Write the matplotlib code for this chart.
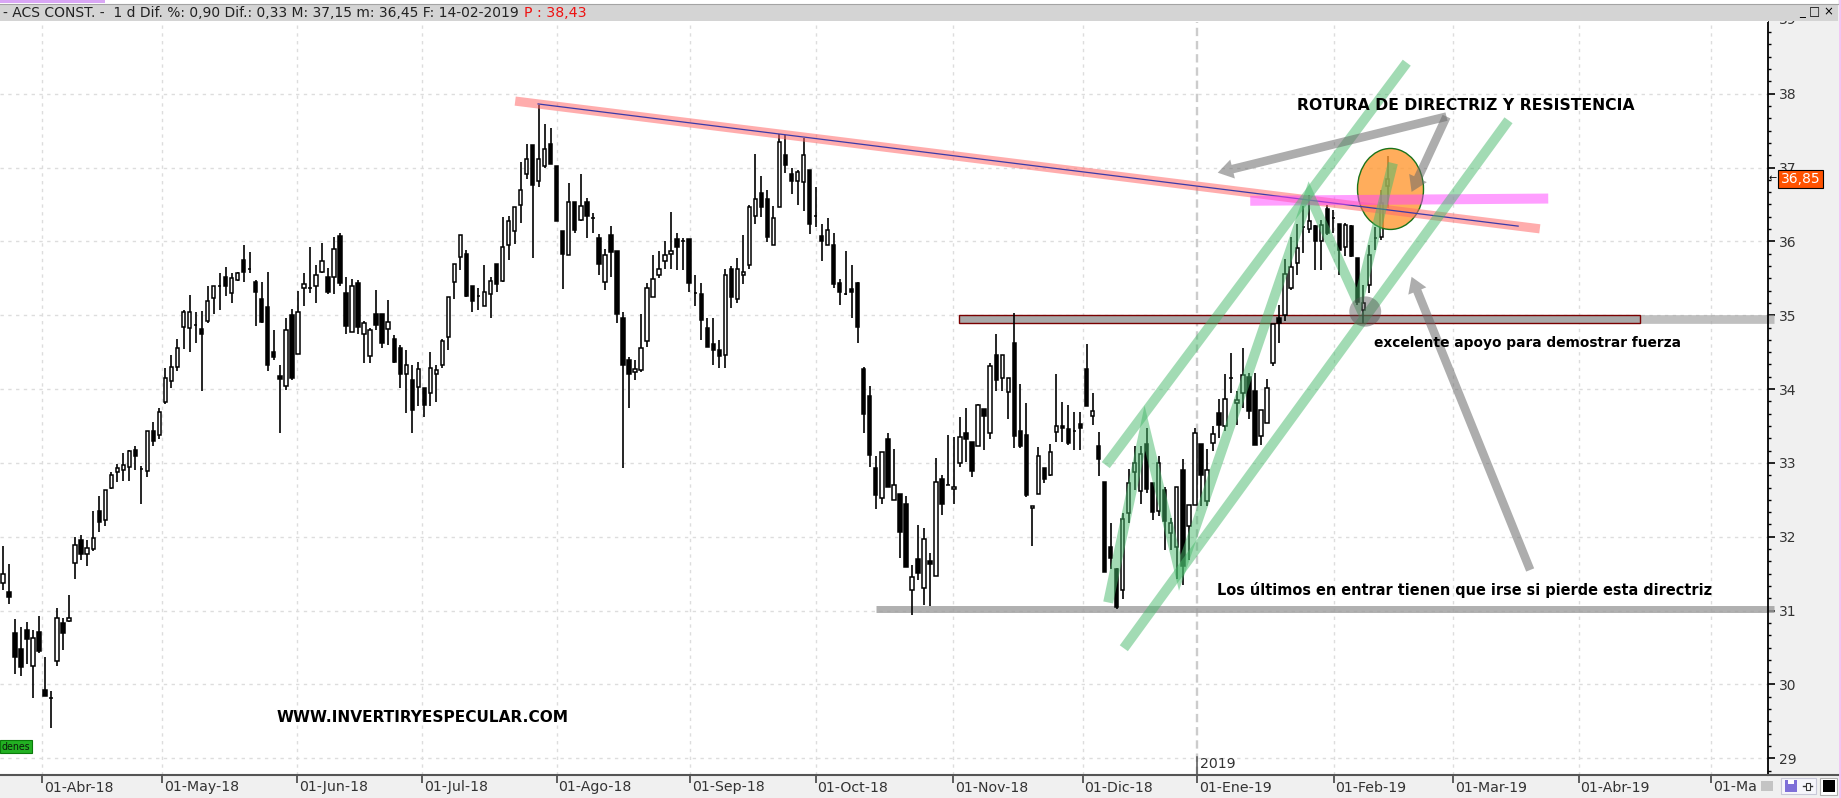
import matplotlib
matplotlib.use("Agg")
import matplotlib.pyplot as plt
import numpy as np
from matplotlib.patches import Rectangle, Ellipse
from matplotlib.lines import Line2D
from matplotlib.ticker import MultipleLocator
import matplotlib.transforms as mtransforms

plt.rcParams['lines.scale_dashes'] = False
plt.rcParams['font.family'] = ['DejaVu Sans']

# ---------------- data (daily candles, index 0 = first candle) ----------------
opens = [31.38, 31.25, 30.69, 30.48, 30.74, 30.25, 30.71, 29.93, 29.82, 30.32,
         30.83, 30.86, 31.65, 31.95, 31.77, 31.83, 32.35, 32.22, 32.66, 32.87,
         32.90, 32.95, 33.18, 32.92, 32.89, 33.43, 33.38, 33.82, 34.11, 34.30,
         34.84, 34.83, 34.87, 34.81, 34.92, 35.23, 35.39, 35.52, 35.30, 35.48,
         35.75, 35.63, 35.45, 35.22, 35.11, 34.50, 34.18, 34.04, 35.00, 34.47,
         35.37, 35.37, 35.39, 35.58, 35.52, 35.52, 36.07, 35.30, 34.77, 35.43,
         34.74, 34.45, 35.02, 35.01, 34.81, 34.68, 34.55, 34.20, 34.12, 34.03,
         34.01, 33.95, 34.20, 34.32, 34.70, 35.45, 35.79, 35.83, 35.39, 35.26,
         35.13, 35.29, 35.69, 35.46, 35.95, 36.14, 36.49, 36.91, 37.30, 36.82,
         37.02, 37.32, 37.02, 36.14, 35.81, 36.53, 36.29, 36.53, 36.31, 36.04,
         35.45, 36.08, 35.87, 34.96, 34.39, 34.23, 34.26, 34.65, 35.25, 35.54,
         35.74, 35.83, 36.03, 36.01, 36.03, 35.30, 35.29, 34.83, 34.61, 34.53,
         34.46, 35.63, 35.22, 35.55, 35.68, 36.34, 36.66, 36.57, 35.95, 36.46,
         37.17, 36.91, 36.82, 36.80, 36.97, 36.34, 36.07, 35.95, 35.95, 35.43,
         35.29, 35.35, 35.43, 34.27, 33.91, 32.93, 32.53, 33.32, 32.50, 32.58,
         32.44, 31.28, 31.70, 31.31, 31.67, 31.47, 32.78, 32.70, 32.65, 33.00,
         33.41, 33.28, 33.23, 33.73, 33.41, 34.46, 34.15, 33.96, 34.63, 33.43,
         33.38, 32.39, 32.58, 32.93, 32.84, 33.42, 33.50, 33.46, 33.43, 33.53,
         34.27, 33.63, 33.23, 32.74, 31.86, 31.56, 31.28, 32.32, 32.88, 32.62,
         33.25, 32.73, 32.35, 32.63, 32.05, 31.86, 32.90, 32.15, 32.43, 33.25,
         32.49, 33.27, 33.68, 33.50, 34.15, 33.81, 33.95, 34.17, 33.97, 33.36,
         33.54, 34.35, 34.96, 35.00, 35.37, 35.71, 36.20, 36.17, 36.21, 36.00,
         36.44, 36.31, 36.23, 35.93, 36.21, 35.77, 35.07, 35.41, 36.04, 36.06,
         36.75]
highs = [31.87, 31.63, 30.89, 30.78, 30.84, 30.74, 30.92, 30.37, 29.91, 31.04,
         30.90, 31.21, 32.00, 32.02, 31.96, 32.35, 32.55, 32.63, 32.87, 32.98,
         33.13, 33.17, 33.23, 32.96, 33.43, 33.55, 33.74, 34.29, 34.46, 34.68,
         35.07, 35.28, 35.04, 35.06, 35.40, 35.40, 35.57, 35.65, 35.57, 35.58,
         35.95, 35.85, 35.48, 35.45, 35.58, 34.80, 34.33, 34.96, 35.08, 35.33,
         35.57, 35.92, 35.68, 35.98, 35.64, 36.06, 36.11, 35.52, 35.49, 35.48,
         34.92, 34.83, 35.34, 35.02, 35.20, 34.73, 34.59, 34.53, 34.33, 34.37,
         34.01, 34.50, 34.32, 34.68, 35.25, 35.70, 36.09, 35.89, 35.39, 35.37,
         35.68, 35.52, 35.69, 36.33, 36.34, 36.46, 37.08, 37.32, 37.30, 37.85,
         37.59, 37.54, 37.02, 36.14, 36.79, 36.53, 36.91, 36.59, 36.39, 36.10,
         35.90, 36.21, 35.87, 35.05, 34.44, 34.39, 35.01, 35.43, 35.81, 35.87,
         36.01, 36.40, 36.11, 36.05, 36.03, 35.55, 35.43, 34.96, 34.96, 34.66,
         35.63, 35.66, 35.77, 36.08, 36.49, 37.18, 36.88, 36.69, 36.48, 37.46,
         37.44, 37.00, 36.97, 37.40, 36.97, 36.74, 36.23, 36.31, 36.11, 35.49,
         35.87, 35.68, 35.45, 34.30, 34.04, 33.09, 33.15, 33.40, 33.19, 32.58,
         32.55, 31.62, 32.16, 32.12, 31.78, 33.07, 32.84, 33.38, 33.35, 33.62,
         33.75, 33.28, 33.80, 33.73, 34.35, 34.75, 34.46, 34.15, 35.03, 34.07,
         33.81, 32.42, 33.22, 32.93, 33.26, 34.21, 33.83, 33.78, 33.69, 33.69,
         34.61, 33.95, 33.42, 32.74, 32.19, 31.58, 32.32, 32.92, 33.23, 33.23,
         33.47, 32.73, 33.10, 32.68, 32.26, 32.68, 33.05, 32.43, 33.47, 33.25,
         33.19, 33.50, 33.86, 34.20, 34.49, 33.97, 34.55, 34.22, 34.22, 33.71,
         34.14, 34.88, 35.14, 35.76, 36.06, 36.23, 36.48, 36.63, 36.22, 36.29,
         36.49, 36.43, 36.23, 36.25, 36.22, 35.77, 35.41, 35.95, 36.20, 36.70,
         37.15]
lows = [31.28, 31.09, 30.14, 30.12, 30.27, 29.81, 30.42, 29.84, 29.41, 30.25,
        30.46, 30.84, 31.43, 31.69, 31.60, 31.81, 32.06, 32.14, 32.64, 32.74,
        32.76, 32.76, 32.90, 32.44, 32.81, 33.23, 33.32, 33.80, 34.01, 34.24,
        34.54, 34.50, 34.62, 33.97, 34.89, 35.01, 35.07, 35.26, 35.16, 35.46,
        35.45, 35.57, 34.85, 34.89, 34.24, 34.39, 33.40, 33.99, 34.12, 34.47,
        35.12, 35.30, 35.16, 35.57, 35.29, 35.29, 35.40, 34.75, 34.77, 34.74,
        34.35, 34.35, 34.80, 34.56, 34.59, 34.35, 34.01, 33.68, 33.40, 33.77,
        33.62, 33.77, 33.83, 34.29, 34.53, 35.22, 35.61, 35.24, 35.04, 35.07,
        35.12, 34.96, 35.31, 35.45, 35.75, 35.96, 36.25, 36.85, 35.78, 36.73,
        36.99, 37.05, 36.28, 35.36, 35.81, 36.12, 36.28, 36.05, 36.11, 35.55,
        35.34, 35.52, 34.89, 32.93, 33.74, 34.12, 34.23, 34.57, 35.25, 35.51,
        35.63, 35.63, 35.61, 35.61, 35.31, 35.13, 34.66, 34.57, 34.33, 34.29,
        34.29, 35.10, 35.16, 35.42, 35.63, 36.23, 36.33, 35.99, 35.95, 36.46,
        36.93, 36.64, 36.49, 36.41, 36.10, 36.19, 35.74, 35.95, 35.37, 35.14,
        35.27, 34.96, 34.62, 33.40, 32.95, 32.37, 32.44, 32.68, 32.50, 31.71,
        31.59, 30.94, 31.41, 31.07, 31.06, 31.47, 32.30, 32.70, 32.44, 32.95,
        33.01, 32.81, 33.23, 33.18, 33.33, 33.97, 33.97, 33.59, 33.20, 33.20,
        32.54, 31.87, 32.58, 32.73, 32.82, 33.28, 33.28, 33.24, 33.17, 33.17,
        33.77, 33.51, 32.82, 31.52, 31.56, 31.02, 31.16, 32.19, 32.63, 32.44,
        32.59, 32.23, 32.28, 31.82, 31.82, 31.43, 31.35, 31.69, 32.43, 32.41,
        32.41, 33.16, 33.34, 33.43, 33.95, 33.51, 33.74, 33.59, 33.24, 33.24,
        33.54, 34.31, 34.63, 34.92, 35.34, 35.54, 35.84, 36.12, 35.61, 35.61,
        36.09, 36.12, 35.55, 35.80, 35.79, 35.14, 34.89, 35.30, 35.88, 36.02,
        36.45]
closes = [31.50, 31.18, 30.37, 30.23, 30.62, 30.63, 30.45, 29.84, 29.82, 30.90,
          30.69, 30.90, 31.89, 31.76, 31.85, 31.98, 32.20, 32.63, 32.83, 32.93,
          32.97, 33.16, 33.09, 32.92, 33.43, 33.30, 33.69, 34.15, 34.30, 34.55,
          35.05, 35.05, 34.87, 34.74, 35.19, 35.39, 35.39, 35.39, 35.51, 35.57,
          35.58, 35.63, 35.31, 34.91, 34.32, 34.43, 34.13, 34.80, 34.15, 35.04,
          35.42, 35.37, 35.54, 35.73, 35.31, 35.90, 35.43, 34.86, 35.39, 34.84,
          34.90, 34.80, 34.87, 34.62, 34.91, 34.36, 34.21, 34.32, 33.71, 34.27,
          33.79, 34.29, 34.26, 34.65, 35.25, 35.70, 36.09, 35.26, 35.19, 35.26,
          35.31, 35.47, 35.42, 35.93, 36.27, 36.46, 36.70, 37.12, 36.76, 37.11,
          37.25, 37.05, 36.28, 35.83, 36.53, 36.16, 36.48, 36.34, 36.31, 35.69,
          35.81, 35.86, 35.01, 34.32, 34.20, 34.27, 34.56, 35.37, 35.49, 35.63,
          35.82, 35.87, 35.92, 36.01, 35.43, 35.30, 34.93, 34.57, 34.53, 34.45,
          35.54, 35.25, 35.63, 35.59, 36.47, 36.58, 36.46, 36.06, 36.32, 37.35,
          37.03, 36.82, 36.94, 37.17, 36.23, 36.34, 36.00, 36.15, 35.42, 35.31,
          35.29, 35.31, 34.84, 33.66, 33.11, 32.57, 33.15, 32.68, 32.70, 32.06,
          31.59, 31.46, 31.51, 31.97, 31.63, 32.74, 32.44, 32.70, 32.68, 33.35,
          33.32, 32.89, 33.78, 33.63, 34.31, 34.12, 34.46, 34.15, 33.36, 33.23,
          32.56, 32.42, 33.10, 32.78, 33.15, 33.50, 33.47, 33.27, 33.43, 33.47,
          33.77, 33.70, 33.05, 31.52, 31.71, 31.05, 32.24, 32.73, 33.00, 33.12,
          32.64, 32.33, 33.00, 32.21, 32.19, 32.68, 31.61, 32.43, 33.41, 32.83,
          32.91, 33.39, 33.51, 33.86, 34.15, 33.85, 34.19, 33.70, 33.24, 33.71,
          34.02, 34.88, 34.90, 35.56, 35.65, 35.91, 36.20, 36.27, 36.00, 36.22,
          36.12, 36.31, 35.88, 36.22, 35.80, 35.18, 35.17, 35.82, 36.04, 36.52,
          36.85]

month_labels = ['01-Abr-18', '01-May-18', '01-Jun-18', '01-Jul-18', '01-Ago-18',
                '01-Sep-18', '01-Oct-18', '01-Nov-18', '01-Dic-18', '01-Ene-19',
                '01-Feb-19', '01-Mar-19', '01-Abr-19', '01-May-19']
month_pos = [6.55, 26.5, 48.9, 69.7, 92.0, 114.2, 135.0, 157.9, 179.4, 198.4,
             221.1, 240.9, 261.8, 283.8]
year_label = '2019'
year_pos = 198.4
price_ticks = [29, 30, 31, 32, 33, 34, 35, 36, 37, 38]
hidden_top_tick = 39

title_main = "- ACS CONST. -  1 d Dif. %: 0,90 Dif.: 0,33 M: 37,15 m: 36,45 F: 14-02-2019"
title_price = "P : 38,43"

# hand-drawn annotations, in (candle index, price)
resist_band = [(85.1, 37.90), (255.3, 36.17)]
resist_line_x = [88.9, 251.7]
support_box = (158.9, 272.0, 34.90, 35.00)
support_ext = (272.0, 294.2, 34.95)
floor_line = (145.0, 294.2, 31.02)
channel_upper = [(183.2, 32.97), (233.2, 38.42)]
channel_lower = [(186.2, 30.49), (250.1, 37.64)]
zigzag = [(183.6, 31.11), (189.7, 33.47), (195.5, 31.51), (217.0, 36.63),
          (225.1, 35.17), (230.9, 37.06)]
magenta_band = [(207.2, 36.55), (256.7, 36.58)]
breakout_ellipse = (230.5, 36.71, 10.96, 1.097)
support_circle = (226.3, 35.05, 5.3, 0.41)
arrow_apex = (239.8, 37.69)
arrow_left_tip = (201.8, 36.93)
arrow_down_tip = (234.0, 36.67)
arrow_long = [(253.7, 31.55), (234.0, 35.52)]

notes = [
    ("ROTURA DE DIRECTRIZ Y RESISTENCIA", 214.9, 37.78, 336),
    ("excelente apoyo para demostrar fuerza", 227.8, 34.57, 307),
    ("Los últimos en entrar tienen que irse si pierde esta directriz", 201.6, 31.21, 493),
    ("WWW.INVERTIRYESPECULAR.COM", 45.4, 29.49, 291),
]

# ---------------- figure / axes ----------------
W, H = 1841, 798
fig = plt.figure(figsize=(W / 100, H / 100), dpi=100, facecolor='#f0f0f0')
px = mtransforms.Affine2D().scale(1 / W, -1 / H).translate(0, 1) + fig.transFigure

PL, PR, PT, PB = 0.0, 1768.0, 21.7, 775.0
ax = fig.add_axes([PL / W, 1 - PB / H, (PR - PL) / W, (PB - PT) / H])
ax.set_facecolor('white')
X0, DX = 2.9, 6.02
Y38, DY = 93.7, 73.84
ax.set_xlim((PL - X0) / DX, (PR - X0) / DX)
ymin, ymax = 38 - (PB - Y38) / DY, 38 + (Y38 - PT) / DY
ax.set_ylim(ymin, ymax)

for s in ['top', 'left']:
    ax.spines[s].set_visible(False)
ax.spines['right'].set_color('black')
ax.spines['right'].set_linewidth(1.3)
ax.spines['bottom'].set_color('#555555')
ax.spines['bottom'].set_linewidth(1.5)

GRID_C = '#dddddd'
GRID_LS = (0, (2.4, 3.2))
ax.yaxis.tick_right()
ax.set_yticks(price_ticks)
ax.set_yticklabels([str(p) for p in price_ticks])
ax.yaxis.set_minor_locator(MultipleLocator(1 / 6))
ax.tick_params(axis='y', which='major', length=4.8, width=1.2, color='black',
               pad=2.9, labelsize=10, labelcolor='#333333')
ax.tick_params(axis='y', which='minor', length=2.4, width=1.0, color='black')
ax.yaxis.grid(True, which='major', color=GRID_C, lw=1, linestyle=GRID_LS)

ax.set_xticks(month_pos)
ax.set_xticklabels([])
ax.tick_params(axis='x', which='major', length=5.8, width=1.2, color='#444444', direction='out')
for p in month_pos:
    if p == year_pos:
        ax.axvline(p, color='#cccccc', lw=1.7, linestyle=(0, (6, 3.5)), zorder=0.6)
    else:
        ax.axvline(p, color=GRID_C, lw=1, linestyle=GRID_LS, zorder=0.5)

# month labels below the axis
for p, lab in zip(month_pos, month_labels):
    ax.text(p + 1.6 / DX, -(787.5 - PB) / (PB - PT), lab, transform=ax.get_xaxis_transform(),
            ha='left', va='center', fontsize=10.2, color='#333333', clip_on=False)
# 2019 marker
y_2019 = 38 - (764 - Y38) / DY
ax.text(year_pos + 0.45, y_2019, year_label, ha='left', va='center', fontsize=10.2, color='#333333')
ax.plot([year_pos, year_pos], [ymin, 38 - (757 - Y38) / DY], color='#555555', lw=1.1, zorder=1)

# ---------------- candles ----------------
o = np.array(opens); h = np.array(highs); l = np.array(lows); c = np.array(closes)
idx = np.arange(len(o))
up = c >= o
ax.vlines(idx, l, h, color='black', lw=1.2, zorder=3)
bottoms = np.minimum(o, c)
heights = np.abs(c - o)
ax.bar(idx[up], heights[up], bottom=bottoms[up], width=0.56, facecolor='white',
       edgecolor='black', lw=1.1, zorder=4)
ax.bar(idx[~up], heights[~up], bottom=bottoms[~up], width=0.56, facecolor='black',
       edgecolor='black', lw=1.1, zorder=4)

# ---------------- annotations ----------------
# support levels
bx0, bx1, by0, by1 = support_box
ax.plot([support_ext[0] - 113, support_ext[1]], [support_ext[2]] * 2, color='#a6a6a6', alpha=0.7,
        lw=6.3, solid_capstyle='butt', clip_on=False, zorder=1.8)
ax.add_patch(Rectangle((bx0, by0), bx1 - bx0, by1 - by0, facecolor='#a9a9a9',
                       edgecolor='#7a0000', lw=1.0, zorder=2))
ax.plot([floor_line[0], floor_line[1]], [floor_line[2]] * 2, color='#9c9c9c', alpha=0.8,
        lw=5.0, solid_capstyle='butt', clip_on=False, zorder=2)

# breakout ellipse
ex, ey, ew, eh = breakout_ellipse
ax.add_patch(Ellipse((ex, ey), ew, eh, facecolor=(1.0, 0.6, 0.2, 0.8),
                     edgecolor=(0.1, 0.45, 0.1, 1.0), lw=1.0, zorder=5.5))

# resistance trendline
(rx0, ry0), (rx1, ry1) = resist_band
ax.plot([rx0, rx1], [ry0, ry1], color='#ff6a6a', alpha=0.55, lw=6.6, solid_capstyle='butt', zorder=6)
slope = (ry1 - ry0) / (rx1 - rx0)
bl_x = np.array(resist_line_x)
ax.plot(bl_x, ry0 + slope * (bl_x - rx0), color='#3a3aa8', lw=0.9, zorder=6.1)

# magenta band
ax.plot([p[0] for p in magenta_band], [p[1] for p in magenta_band], color='#ff40ff', alpha=0.5,
        lw=7.2, solid_capstyle='butt', zorder=6.5)

# green channel + zigzag
for pts in (channel_upper, channel_lower, zigzag):
    ax.plot([p[0] for p in pts], [p[1] for p in pts], color='#47b96b', alpha=0.5, lw=7.2,
            solid_capstyle='butt', solid_joinstyle='miter', zorder=8)

# grey circle at support
cx, cy, cw, ch = support_circle
ax.add_patch(Ellipse((cx, cy), cw, ch, facecolor='#505050', alpha=0.45, lw=0, zorder=9))

# grey arrows
astyle = 'simple,head_length=1.1,head_width=1.4,tail_width=0.62'
for tail, tip in [(arrow_apex, arrow_left_tip), (arrow_apex, arrow_down_tip),
                  (arrow_long[0], arrow_long[1])]:
    ax.annotate('', xy=tip, xytext=tail, zorder=9,
                arrowprops=dict(arrowstyle=astyle, mutation_scale=10, fc='#6a6a6a', ec='none',
                                alpha=0.55, shrinkA=0, shrinkB=0, lw=0))

# texts
renderer = fig.canvas.get_renderer()
def fit_width(t, target):
    w = t.get_window_extent(renderer=renderer).width
    t.set_fontsize(t.get_fontsize() * target / w)

for s, x, y, wpx in notes:
    t = ax.text(x, y, s, fontweight='bold', fontsize=11, ha='left', va='baseline',
                color='black', zorder=10)
    fit_width(t, wpx)

# hidden "39" label partially under the title bar
tr_xpx_ydata = mtransforms.blended_transform_factory(px, ax.transData)
fig.text(1779, hidden_top_tick, str(hidden_top_tick), transform=tr_xpx_ydata, ha='left',
         va='center', fontsize=10, color='#333333', zorder=0.5)

# last price tag
last = closes[-1]
fig.add_artist(Rectangle((1778.3, last - 9 / DY), 45, 18 / DY, transform=tr_xpx_ydata,
                         facecolor='#ff5200', edgecolor='black', lw=0.8, zorder=2))
fig.text(1800.8, last, f"{last:.2f}".replace('.', ','), transform=tr_xpx_ydata, ha='center',
         va='center', fontsize=10, color='white', zorder=3)
fig.text(1773, last, '←', transform=tr_xpx_ydata, ha='center', va='center', fontsize=7,
         color='black', zorder=3)

# ---------------- window chrome ----------------
fig.add_artist(Rectangle((0, 0), 1838.5, 3.6, transform=px, facecolor='white', lw=0, zorder=1))
fig.add_artist(Rectangle((0, 0), 105, 3.4, transform=px, facecolor='#d9a6f5', lw=0, zorder=1.1))
fig.add_artist(Rectangle((0, 3.6), 1838.5, 16.9, transform=px, facecolor='#d4d4d4', lw=0, zorder=1))
fig.add_artist(Line2D([0, 1838.5], [4.0, 4.0], transform=px, color='#a4a4a4', lw=0.8, zorder=1.2))
fig.add_artist(Rectangle((0, 20.5), PR, PT - 20.5, transform=px, facecolor='white', lw=0, zorder=1))
t1 = fig.text(3, 12.6, title_main, transform=px, ha='left', va='center', fontsize=9,
              color='#222222', zorder=3)
fit_width(t1, 517)
t2 = fig.text(524.5, 12.6, title_price, transform=px, ha='left', va='center', fontsize=9,
              color='#ee1111', zorder=3)
fit_width(t2, 62.5)
for gx, g in [(1802.5, '_'), (1814, '□'), (1828, '×')]:
    fig.text(gx, 11.5, g, transform=px, ha='center', va='center', fontsize=8.5,
             color='black', zorder=3)
fig.add_artist(Rectangle((1838.6, 0), 2.4, H, transform=px, facecolor='#f3c4f3', lw=0, zorder=1))

# bottom right toolbar
fig.add_artist(Line2D([PR, 1838.5], [PB, PB], transform=px, color='#555555', lw=1.5, zorder=1))
fig.add_artist(Rectangle((1757, 776.5), 81, 20, transform=px, facecolor='#f0f0f0', lw=0, zorder=1.5))
fig.add_artist(Rectangle((1761, 780.5), 12, 10, transform=px, facecolor='#c4c4c4', lw=0, zorder=1.6))
fig.add_artist(Rectangle((1781, 778), 35, 16, transform=px, facecolor='#f6f6fb',
                         edgecolor='#c8c8d8', lw=0.8, zorder=1.6))
fig.add_artist(Rectangle((1785, 779.5), 12, 12.5, transform=px, facecolor='#7f70d8', lw=0, zorder=1.7))
fig.add_artist(Rectangle((1788, 779.5), 6, 4.5, transform=px, facecolor='white', lw=0, zorder=1.8))
fig.add_artist(Line2D([1803, 1812], [786, 786], transform=px, color='#333333', lw=1, zorder=1.8))
fig.add_artist(Rectangle((1806.5, 782.5), 4, 7, transform=px, facecolor='white',
                         edgecolor='#333333', lw=0.8, zorder=1.9))
fig.add_artist(Rectangle((1820, 778), 17.5, 16.5, transform=px, facecolor='white',
                         edgecolor='#b0b0b0', lw=0.8, zorder=1.6))
fig.add_artist(Rectangle((1823, 780), 12, 12, transform=px, facecolor='black', lw=0, zorder=1.7))

# "denes" tag
fig.add_artist(Rectangle((0, 740), 31.7, 12.7, transform=px, facecolor='#22b022',
                         edgecolor='#0a7a0a', lw=0.8, zorder=2))
t3 = fig.text(1, 746.5, 'denes', transform=px, ha='left', va='center', fontsize=8,
              color='#0c1c0c', zorder=3)
fit_width(t3, 29)

fig.savefig('out.png', dpi=100, facecolor=fig.get_facecolor())
